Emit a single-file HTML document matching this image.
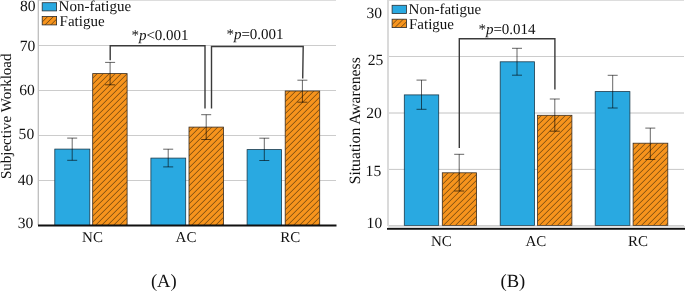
<!DOCTYPE html>
<html><head><meta charset="utf-8"><title>Workload and Situation Awareness</title>
<style>
html,body{margin:0;padding:0;background:#fff;}
body{width:685px;height:291px;overflow:hidden;}
svg{display:block;will-change:transform;text-rendering:geometricPrecision;font-family:"Liberation Serif", serif;fill:#111;}
svg text{fill:#111;}
</style></head>
<body>
<svg width="685" height="291" viewBox="0 0 685 291">
<defs>
<pattern id="hatch" patternUnits="userSpaceOnUse" width="4.2426" height="4.2426" patternTransform="translate(2.3 0) rotate(45)">
<rect x="0" y="0" width="4.2426" height="4.2426" fill="#f7941d"/>
<line x1="0" y1="-1" x2="0" y2="5.25" stroke="#3d2808" stroke-width="1.0"/>
</pattern>
<pattern id="hatchLA" patternUnits="userSpaceOnUse" width="4.1" height="4.1" patternTransform="translate(5.6 0) rotate(45)">
<rect x="0" y="0" width="4.1" height="4.1" fill="#f7941d"/>
<line x1="0" y1="-1" x2="0" y2="5.1" stroke="#3d2808" stroke-width="1.0"/>
</pattern>
<pattern id="hatchLB" patternUnits="userSpaceOnUse" width="4.1" height="4.1" patternTransform="translate(4.4 0) rotate(45)">
<rect x="0" y="0" width="4.1" height="4.1" fill="#f7941d"/>
<line x1="0" y1="-1" x2="0" y2="5.1" stroke="#3d2808" stroke-width="1.0"/>
</pattern>
</defs>
<rect width="685" height="291" fill="#fff"/>
<line x1="38" y1="0.5" x2="336" y2="0.5" stroke="#dddddd" stroke-width="1"/>
<line x1="38" y1="45.5" x2="336" y2="45.5" stroke="#cccccc" stroke-width="1"/>
<line x1="38" y1="90.5" x2="336" y2="90.5" stroke="#cccccc" stroke-width="1"/>
<line x1="38" y1="135.5" x2="336" y2="135.5" stroke="#cccccc" stroke-width="1"/>
<line x1="38" y1="180.5" x2="336" y2="180.5" stroke="#cccccc" stroke-width="1"/>
<line x1="38.3" y1="0" x2="38.3" y2="225" stroke="#bdbdbd" stroke-width="1.3"/>
<rect x="54.80" y="149.10" width="35.00" height="76.40" fill="#29a9e1" stroke="#1b3a4b" stroke-width="0.8"/>
<rect x="92.70" y="73.60" width="34.40" height="151.90" fill="url(#hatch)" stroke="#3a2d20" stroke-width="0.8"/>
<rect x="150.90" y="158.10" width="34.80" height="67.40" fill="#29a9e1" stroke="#1b3a4b" stroke-width="0.8"/>
<rect x="189.00" y="127.10" width="34.50" height="98.40" fill="url(#hatch)" stroke="#3a2d20" stroke-width="0.8"/>
<rect x="247.10" y="149.60" width="34.40" height="75.90" fill="#29a9e1" stroke="#1b3a4b" stroke-width="0.8"/>
<rect x="285.20" y="91.00" width="34.50" height="134.50" fill="url(#hatch)" stroke="#3a2d20" stroke-width="0.8"/>
<path d="M72.20,138.10V160.30M67.20,138.10H77.20M67.20,160.30H77.20" fill="none" stroke="#000000" stroke-opacity="0.6" stroke-width="1"/>
<path d="M110.10,62.40V84.80M105.10,62.40H115.10M105.10,84.80H115.10" fill="none" stroke="#000000" stroke-opacity="0.6" stroke-width="1"/>
<path d="M168.20,149.20V166.90M163.20,149.20H173.20M163.20,166.90H173.20" fill="none" stroke="#000000" stroke-opacity="0.6" stroke-width="1"/>
<path d="M206.20,114.70V139.50M201.20,114.70H211.20M201.20,139.50H211.20" fill="none" stroke="#000000" stroke-opacity="0.6" stroke-width="1"/>
<path d="M264.30,138.20V160.50M259.30,138.20H269.30M259.30,160.50H269.30" fill="none" stroke="#000000" stroke-opacity="0.6" stroke-width="1"/>
<path d="M302.40,80.20V102.20M297.40,80.20H307.40M297.40,102.20H307.40" fill="none" stroke="#000000" stroke-opacity="0.6" stroke-width="1"/>
<rect x="38" y="224.5" width="298.5" height="2" fill="#111"/>
<polyline points="110.2,60.2 110.2,45.7 205,45.7 205,108.6" fill="none" stroke="#3a3a3a" stroke-width="1.4"/>
<polyline points="211.5,108.6 211.5,46.5 303.2,46.5 302.7,78.4" fill="none" stroke="#3a3a3a" stroke-width="1.4"/>
<text x="35.65" y="10.90" font-size="15.6" text-anchor="end" >80</text>
<text x="35.25" y="50.95" font-size="15.6" text-anchor="end" >70</text>
<text x="34.80" y="95.45" font-size="15.6" text-anchor="end" >60</text>
<text x="34.20" y="139.20" font-size="15.6" text-anchor="end" >50</text>
<text x="33.25" y="185.25" font-size="15.6" text-anchor="end" >40</text>
<text x="33.30" y="227.55" font-size="15.6" text-anchor="end" >30</text>
<text x="92.50" y="242.20" font-size="15" text-anchor="middle" >NC</text>
<text x="186.00" y="242.20" font-size="15" text-anchor="middle" >AC</text>
<text x="290.30" y="242.20" font-size="15" text-anchor="middle" >RC</text>
<text x="163.80" y="286.80" font-size="18.6" text-anchor="middle" >(A)</text>
<text transform="translate(10.8,116.3) rotate(-90)" font-size="15" text-anchor="middle">Subjective Workload</text>
<text x="160.00" y="39.50" font-size="15" text-anchor="middle" >*<tspan font-style="italic">p</tspan>&lt;0.001</text>
<text x="255.00" y="39.40" font-size="15" text-anchor="middle" >*<tspan font-style="italic">p</tspan>=0.001</text>
<rect x="42.2" y="2.7" width="14.4" height="8.2" fill="#29a9e1" stroke="#2a2f33" stroke-width="0.8"/><rect x="42.2" y="16.5" width="14.4" height="8.4" fill="url(#hatchLA)" stroke="#2a2a2a" stroke-width="0.8"/><text x="58.60" y="11.30" font-size="15" text-anchor="start" >Non-fatigue</text><text x="59.60" y="25.60" font-size="15" text-anchor="start" >Fatigue</text>
<line x1="388" y1="0.5" x2="684" y2="0.5" stroke="#dddddd" stroke-width="1"/>
<line x1="388" y1="56.5" x2="684" y2="56.5" stroke="#cccccc" stroke-width="1"/>
<line x1="388" y1="113.0" x2="684" y2="113.0" stroke="#c2c2c2" stroke-width="1"/>
<line x1="388" y1="169.4" x2="684" y2="169.4" stroke="#c8c8c8" stroke-width="1"/>
<line x1="388" y1="225.5" x2="684" y2="225.5" stroke="#cccccc" stroke-width="1"/>
<line x1="388.0" y1="0" x2="388.0" y2="226" stroke="#dadada" stroke-width="2"/>
<rect x="404.30" y="94.90" width="34.40" height="130.60" fill="#29a9e1" stroke="#1b3a4b" stroke-width="0.8"/>
<rect x="442.30" y="172.80" width="34.30" height="52.70" fill="url(#hatch)" stroke="#3a2d20" stroke-width="0.8"/>
<rect x="500.20" y="61.80" width="34.30" height="163.70" fill="#29a9e1" stroke="#1b3a4b" stroke-width="0.8"/>
<rect x="537.60" y="115.30" width="34.30" height="110.20" fill="url(#hatch)" stroke="#3a2d20" stroke-width="0.8"/>
<rect x="595.20" y="91.60" width="34.70" height="133.90" fill="#29a9e1" stroke="#1b3a4b" stroke-width="0.8"/>
<rect x="633.10" y="143.20" width="34.70" height="82.30" fill="url(#hatch)" stroke="#3a2d20" stroke-width="0.8"/>
<path d="M421.50,80.10V109.30M416.50,80.10H426.50M416.50,109.30H426.50" fill="none" stroke="#000000" stroke-opacity="0.6" stroke-width="1"/>
<path d="M459.20,154.30V191.00M454.20,154.30H464.20M454.20,191.00H464.20" fill="none" stroke="#000000" stroke-opacity="0.6" stroke-width="1"/>
<path d="M517.00,48.30V75.20M512.00,48.30H522.00M512.00,75.20H522.00" fill="none" stroke="#000000" stroke-opacity="0.6" stroke-width="1"/>
<path d="M554.80,99.00V131.20M549.80,99.00H559.80M549.80,131.20H559.80" fill="none" stroke="#000000" stroke-opacity="0.6" stroke-width="1"/>
<path d="M612.70,75.30V108.00M607.70,75.30H617.70M607.70,108.00H617.70" fill="none" stroke="#000000" stroke-opacity="0.6" stroke-width="1"/>
<path d="M650.30,128.10V159.50M645.30,128.10H655.30M645.30,159.50H655.30" fill="none" stroke="#000000" stroke-opacity="0.6" stroke-width="1"/>
<rect x="388" y="225.9" width="297" height="2.1" fill="#e2e2e2"/>
<rect x="387" y="227.95" width="298" height="1.8" fill="#111"/>
<polyline points="459.3,147.9 459.3,38.8 554.9,38.8 554.9,89.5" fill="none" stroke="#3a3a3a" stroke-width="1.4"/>
<text x="382.00" y="18.20" font-size="15.6" text-anchor="end" >30</text>
<text x="383.35" y="64.90" font-size="15.6" text-anchor="end" >25</text>
<text x="381.75" y="117.75" font-size="15.6" text-anchor="end" >20</text>
<text x="381.20" y="176.25" font-size="15.6" text-anchor="end" >15</text>
<text x="382.20" y="227.85" font-size="15.6" text-anchor="end" >10</text>
<text x="441.30" y="245.50" font-size="15" text-anchor="middle" >NC</text>
<text x="535.90" y="245.50" font-size="15" text-anchor="middle" >AC</text>
<text x="638.10" y="245.50" font-size="15" text-anchor="middle" >RC</text>
<text x="512.90" y="286.60" font-size="18.6" text-anchor="middle" >(B)</text>
<text transform="translate(359.5,120.8) rotate(-90)" font-size="15.7" text-anchor="middle">Situation Awareness</text>
<text x="507.00" y="34.00" font-size="15" text-anchor="middle" >*<tspan font-style="italic">p</tspan>=0.014</text>
<rect x="392.1" y="5.3" width="14.4" height="8.2" fill="#29a9e1" stroke="#2a2f33" stroke-width="0.8"/><rect x="392.1" y="19.2" width="14.4" height="8.4" fill="url(#hatchLB)" stroke="#2a2a2a" stroke-width="0.8"/><text x="408.60" y="14.10" font-size="15" text-anchor="start" >Non-fatigue</text><text x="409.00" y="28.70" font-size="15" text-anchor="start" >Fatigue</text>
</svg>
</body></html>
